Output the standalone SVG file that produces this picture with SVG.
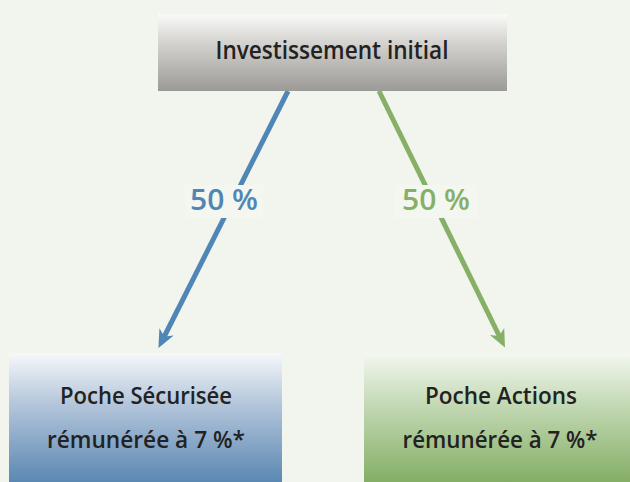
<svg xmlns="http://www.w3.org/2000/svg" width="630" height="482" viewBox="0 0 630 482">
  <defs>
    <linearGradient id="gGray" x1="0" y1="0" x2="0" y2="1">
      <stop offset="0" stop-color="#fafaf8"/>
      <stop offset="0.35" stop-color="#d6d5d1"/>
      <stop offset="1" stop-color="#9c9a96"/>
    </linearGradient>
    <linearGradient id="gBlue" x1="0" y1="0" x2="0" y2="1">
      <stop offset="0" stop-color="#f6f8fb"/>
      <stop offset="0.4" stop-color="#b3c5da"/>
      <stop offset="1" stop-color="#5b88b3"/>
    </linearGradient>
    <linearGradient id="gGreen" x1="0" y1="0" x2="0" y2="1">
      <stop offset="0" stop-color="#f4f7f1"/>
      <stop offset="0.4" stop-color="#c3d9b4"/>
      <stop offset="1" stop-color="#84ae66"/>
    </linearGradient>
    <marker id="arrBlue" markerUnits="userSpaceOnUse" markerWidth="20" markerHeight="20" viewBox="-18 -10 20 20" refX="-9" refY="0" orient="auto">
      <path d="M0,0 L-18,-8 L-13,0 L-18,8 Z" fill="#4f86b5"/>
    </marker>
    <marker id="arrGreen" markerUnits="userSpaceOnUse" markerWidth="20" markerHeight="20" viewBox="-18 -10 20 20" refX="-9" refY="0" orient="auto">
      <path d="M0,0 L-18,-8 L-13,0 L-18,8 Z" fill="#86b068"/>
    </marker>
    <style>
      .lbl { font-family: "Open Sans", "DejaVu Sans", sans-serif; font-weight: 600; fill: #222222; text-anchor: middle; }
      .pct { font-family: "Open Sans", "DejaVu Sans", sans-serif; font-weight: 600; font-size: 29px; text-anchor: middle; }
      .pctbg { fill: #f4f6f0; }
      .conn { fill: none; stroke-width: 5; }
    </style>
  </defs>
  <rect x="0" y="0" width="630" height="482" fill="#f1f5ee"/>

  <g id="connectors">
    <line class="conn" x1="288" y1="91" x2="162.5" y2="340" stroke="#4f86b5" marker-end="url(#arrBlue)"/>
    <line class="conn" x1="379" y1="91" x2="501" y2="339.5" stroke="#86b068" marker-end="url(#arrGreen)"/>
    <g id="label-left">
      <rect class="pctbg" x="185" y="185" width="78" height="33"/>
      <text class="pct" x="224" y="210" fill="#4f86b5" textLength="68" lengthAdjust="spacingAndGlyphs">50 %</text>
    </g>
    <g id="label-right">
      <rect class="pctbg" x="395" y="185" width="82" height="33"/>
      <text class="pct" x="436" y="210" fill="#86b068" textLength="68" lengthAdjust="spacingAndGlyphs">50 %</text>
    </g>
  </g>

  <g id="node-investissement">
    <rect x="158" y="14" width="349" height="77" fill="url(#gGray)"/>
    <text class="lbl" x="332" y="59" font-size="26" textLength="233" lengthAdjust="spacingAndGlyphs">Investissement initial</text>
  </g>

  <g id="node-securisee">
    <rect x="9" y="353" width="273" height="129" fill="url(#gBlue)"/>
    <text class="lbl" x="146" y="404" font-size="24" textLength="172" lengthAdjust="spacingAndGlyphs">Poche Sécurisée</text>
    <text class="lbl" x="146" y="448" font-size="24" textLength="198" lengthAdjust="spacingAndGlyphs">rémunérée à 7 %*</text>
  </g>

  <g id="node-actions">
    <rect x="364" y="353" width="273" height="129" fill="url(#gGreen)"/>
    <text class="lbl" x="501" y="404" font-size="24" textLength="152" lengthAdjust="spacingAndGlyphs">Poche Actions</text>
    <text class="lbl" x="500" y="448" font-size="24" textLength="195" lengthAdjust="spacingAndGlyphs">rémunérée à 7 %*</text>
  </g>
</svg>
